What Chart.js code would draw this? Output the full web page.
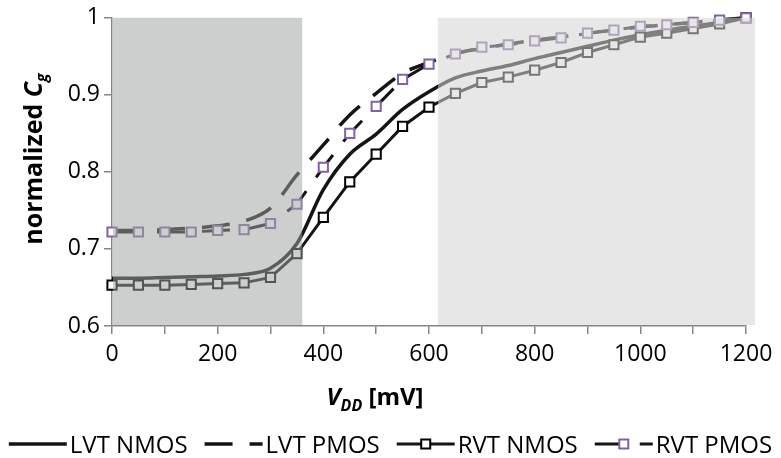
<!DOCTYPE html>
<html>
<head>
<meta charset="utf-8">
<title>normalized Cg vs VDD</title>
<script src="https://cdn.jsdelivr.net/npm/chart.js@4.4.0/dist/chart.umd.min.js"></script>
<style>
  html, body { margin: 0; padding: 0; background: #fff; }
  #wrap { width: 781px; height: 458px; }
</style>
</head>
<body>
<div id="wrap"><canvas id="cgChart" width="781" height="458"></canvas></div>
<script>
// supply voltage in mV
const vdd = [0, 50, 100, 150, 200, 250, 300, 350, 400, 450, 500, 550, 600,
             650, 700, 750, 800, 850, 900, 950, 1000, 1050, 1100, 1150, 1200];

const lvtNmos = [0.662, 0.662, 0.663, 0.664, 0.665, 0.667, 0.675, 0.707, 0.777, 0.823, 0.849, 0.881, 0.904,
                 0.922, 0.931, 0.938, 0.947, 0.955, 0.963, 0.971, 0.978, 0.984, 0.989, 0.994, 1.000];
const lvtPmos = [0.724, 0.724, 0.725, 0.727, 0.730, 0.736, 0.753, 0.796, 0.835, 0.874, 0.902, 0.928, 0.942,
                 0.954, 0.960, 0.966, 0.971, 0.975, 0.980, 0.984, 0.988, 0.991, 0.994, 0.997, 1.000];
const rvtNmos = [0.653, 0.653, 0.653, 0.654, 0.655, 0.656, 0.663, 0.694, 0.741, 0.787, 0.823, 0.859, 0.884,
                 0.902, 0.916, 0.923, 0.932, 0.942, 0.955, 0.965, 0.975, 0.980, 0.986, 0.992, 1.000];
const rvtPmos = [0.722, 0.722, 0.722, 0.722, 0.724, 0.725, 0.733, 0.758, 0.806, 0.850, 0.885, 0.920, 0.940,
                 0.953, 0.962, 0.965, 0.970, 0.974, 0.980, 0.984, 0.989, 0.991, 0.994, 0.997, 1.000];

const seriesNames = ['LVT NMOS', 'LVT PMOS', 'RVT NMOS', 'RVT PMOS'];
const xTickLabels = [0, 200, 400, 600, 800, 1000, 1200];
const yTickLabels = [0.6, 0.7, 0.8, 0.9, 1];

// shaded operating regions (mV)
const lowRegion = [0, 360];
const highRegion = [617, 1217];

const FONT = '"Open Sans", "Liberation Sans", sans-serif';
const AXIS_GREY = '#868686';
const LINE = '#141414';
const PURPLE = '#8064a2';
const DASH = [28, 17];

function toPoints(vals) {
    return vals.map((v, i) => ({ x: vdd[i], y: v }));
}

// the shading sits on top of the curves (semi transparent), like in the figure
const shadePlugin = {
    id: 'shade',
    afterDatasetsDraw(chart) {
        const { ctx, chartArea, scales: { x } } = chart;
        const top = chartArea.top;
        const h = chartArea.bottom - 1 - top;
        ctx.save();
        ctx.fillStyle = 'rgba(160,162,162,0.52)';
        const l0 = x.getPixelForValue(lowRegion[0]) + 1;
        ctx.fillRect(l0, top, x.getPixelForValue(lowRegion[1]) - l0, h);
        ctx.fillStyle = 'rgba(212,212,212,0.56)';
        const h0 = x.getPixelForValue(highRegion[0]);
        ctx.fillRect(h0, top, x.getPixelForValue(highRegion[1]) - h0, h);
        ctx.restore();
    }
};

function drawRuns(ctx, runs, x, y, align) {
    let total = 0;
    runs.forEach(r => { ctx.font = r.font; r.w = ctx.measureText(r.text).width; total += r.w; });
    let cx = align === 'center' ? x - total / 2 : x;
    runs.forEach(r => {
        ctx.font = r.font;
        ctx.fillText(r.text, cx, y + (r.dy || 0));
        cx += r.w;
    });
}

const titlePlugin = {
    id: 'titles',
    afterDraw(chart) {
        const ctx = chart.ctx;
        ctx.save();
        ctx.fillStyle = '#000';
        ctx.textBaseline = 'alphabetic';
        ctx.textAlign = 'left';
        // x title
        drawRuns(ctx, [
            { text: 'V', font: 'italic bold 24px ' + FONT },
            { text: 'DD', font: 'italic bold 16px ' + FONT, dy: 6 },
            { text: ' [mV]', font: 'bold 24px ' + FONT }
        ], 375, 405, 'center');
        // y title
        ctx.translate(42, 159);
        ctx.rotate(-Math.PI / 2);
        drawRuns(ctx, [
            { text: 'normalized ', font: 'bold 25px ' + FONT },
            { text: 'C', font: 'italic bold 25px ' + FONT },
            { text: 'g', font: 'italic bold 16px ' + FONT, dy: 5 }
        ], 0, 0, 'center');
        ctx.restore();
    }
};

const legendPlugin = {
    id: 'lineLegend',
    afterDraw(chart) {
        const ctx = chart.ctx;
        const sample = 58, gapText = 3, gapItem = 17, yMid = 444;
        ctx.save();
        ctx.font = '24px ' + FONT;
        const widths = chart.data.datasets.map(d => ctx.measureText(d.label).width);
        const total = widths.reduce((a, b) => a + b, 0) + chart.data.datasets.length * (sample + gapText) +
                      (chart.data.datasets.length - 1) * gapItem;
        let x = (chart.width - total) / 2;
        chart.data.datasets.forEach((d, i) => {
            ctx.strokeStyle = d.borderColor;
            ctx.lineWidth = d.borderWidth;
            ctx.setLineDash(d.borderDash || []);
            ctx.beginPath();
            ctx.moveTo(x, yMid);
            ctx.lineTo(x + sample, yMid);
            ctx.stroke();
            ctx.setLineDash([]);
            if (d.pointRadius > 0) {
                const s = 9;
                ctx.fillStyle = d.pointBackgroundColor;
                ctx.strokeStyle = d.pointBorderColor;
                ctx.lineWidth = d.pointBorderWidth;
                ctx.fillRect(x + sample / 2 - s / 2, yMid - s / 2, s, s);
                ctx.strokeRect(x + sample / 2 - s / 2, yMid - s / 2, s, s);
            }
            x += sample + gapText;
            ctx.fillStyle = '#000';
            ctx.textBaseline = 'alphabetic';
            ctx.fillText(d.label, x, yMid + 9);
            x += widths[i] + gapItem;
        });
        ctx.restore();
    }
};

const ctx = document.getElementById('cgChart').getContext('2d');
const chart = new Chart(ctx, {
    type: 'line',
    data: {
        datasets: [
            {
                label: seriesNames[0], data: toPoints(lvtNmos), order: 4,
                borderColor: LINE, borderWidth: 3.5, pointRadius: 0,
                cubicInterpolationMode: 'monotone', clip: false
            },
            {
                label: seriesNames[1], data: toPoints(lvtPmos), order: 3,
                borderColor: LINE, borderWidth: 3.5, borderDash: DASH, pointRadius: 0,
                cubicInterpolationMode: 'monotone', clip: false
            },
            {
                label: seriesNames[2], data: toPoints(rvtNmos), order: 2,
                borderColor: LINE, borderWidth: 3, tension: 0,
                pointStyle: 'rect', pointRadius: 6.5, pointBorderWidth: 2,
                pointBorderColor: '#000', pointBackgroundColor: '#fff', clip: false
            },
            {
                label: seriesNames[3], data: toPoints(rvtPmos), order: 1,
                borderColor: LINE, borderWidth: 3, borderDash: DASH, tension: 0,
                pointStyle: 'rect', pointRadius: 6.5, pointBorderWidth: 2,
                pointBorderColor: PURPLE, pointBackgroundColor: '#fff', clip: false
            }
        ]
    },
    options: {
        responsive: false,
        devicePixelRatio: 1,
        animation: false,
        layout: { padding: { top: 14, right: 35, left: 0, bottom: 0 } },
        plugins: {
            legend: { display: false },
            tooltip: { enabled: false }
        },
        scales: {
            x: {
                type: 'linear', min: 0, max: 1200,
                ticks: {
                    stepSize: 100, autoSkip: false, maxRotation: 0, padding: 7,
                    color: '#000', font: { family: FONT, size: 23 },
                    callback: v => xTickLabels.includes(v) ? String(v) : ''
                },
                grid: { drawOnChartArea: false, drawTicks: true, tickLength: 8, color: AXIS_GREY, lineWidth: 1.5 },
                border: { color: AXIS_GREY, width: 1.5 },
                afterFit: s => { s.height = 132; }
            },
            y: {
                min: 0.6, max: 1,
                ticks: {
                    stepSize: 0.1, padding: 4,
                    color: '#000', font: { family: FONT, size: 23 },
                    callback: v => {
                        const r = Math.round(v * 10) / 10;
                        return yTickLabels.includes(r) ? String(r) : '';
                    }
                },
                grid: { drawOnChartArea: false, drawTicks: true, tickLength: 8, color: AXIS_GREY, lineWidth: 1.5 },
                border: { color: AXIS_GREY, width: 1.5 },
                afterFit: s => { s.width = 112; }
            }
        }
    },
    plugins: [shadePlugin, titlePlugin, legendPlugin]
});
</script>
</body>
</html>
